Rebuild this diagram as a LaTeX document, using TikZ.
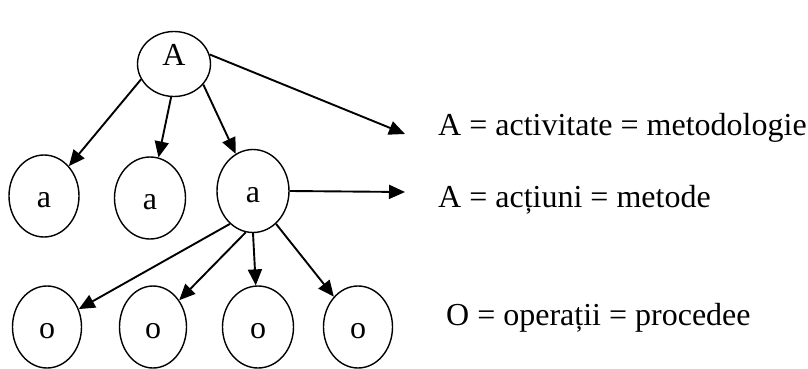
\documentclass[tikz,border=0pt]{standalone}
\usepackage{fontspec}
\setmainfont{Liberation Serif}
\usetikzlibrary{shapes.geometric,arrows.meta}

\begin{document}
\begin{tikzpicture}[x=1pt,y=-1pt,
  bub/.style={draw,ellipse,line width=1.4pt,inner sep=0pt,minimum width=71pt,minimum height=82pt,
    text height=22pt,text depth=0pt},
  arr/.style={line width=1.9pt,-{Triangle[length=16pt,width=14pt]}},
  every node/.append style={font=\fontsize{32}{36}\selectfont}]
\useasboundingbox (0,0) rectangle (808,369);

\node[bub,minimum width=73pt,minimum height=65pt,text depth=19pt] (A) at (174,64) {A};

\node[bub,minimum width=70pt] (a1) at (44,196) {a};
\node[bub] (a2) at (150,198) {a};
\node[bub,minimum width=72pt,minimum height=83pt] (a3) at (253,191) {a};

\node[bub,minimum width=69pt] (o1) at (47,327) {o};
\node[bub,minimum width=67pt] (o2) at (153,327) {o};
\node[bub] (o3) at (258,327) {o};
\node[bub,minimum width=69pt] (o4) at (358,327) {o};

\coordinate (m1) at (405,134);
\coordinate (m2) at (405,192);

\draw[arr] (A.205) -- (a1);
\draw[arr] (A.-95) -- (a2);
\draw[arr] (A.-35) -- (a3);
\draw[arr] (A.15) -- (m1);
\draw[arr] (a3.east) -- (m2);

\draw[arr] (a3.-125) -- (o1);
\draw[arr] (a3.-100) -- (o2);
\draw[arr] (a3.south) -- (o3);
\draw[arr] (a3.-55) -- (o4);

\node[anchor=base west,inner sep=0pt] (lact) at (438,135) {A = activitate = metodologie};
\node[anchor=base west,inner sep=0pt] (lmet) at (438,207) {A = acțiuni = metode};
\node[anchor=base west,inner sep=0pt] (lop) at (446,325) {O = operații = procedee};
\end{tikzpicture}
\end{document}
